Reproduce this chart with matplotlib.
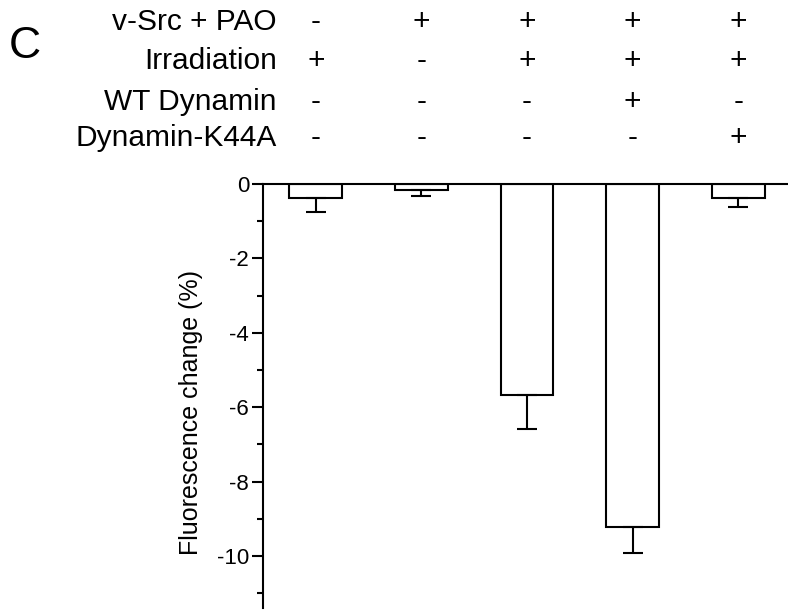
import numpy as np
import matplotlib.pyplot as plt
from matplotlib.transforms import blended_transform_factory
from matplotlib.ticker import MultipleLocator

plt.rcParams['font.family'] = ['Liberation Sans', 'DejaVu Sans']

# data
row_labels = ['v-Src + PAO', 'Irradiation', 'WT Dynamin', 'Dynamin-K44A']
conditions = [
    ['-', '+', '+', '+', '+'],
    ['+', '-', '+', '+', '+'],
    ['-', '-', '-', '+', '-'],
    ['-', '-', '-', '-', '+'],
]
values = [-0.38, -0.17, -5.66, -9.22, -0.38]
errors = [0.36, 0.16, 0.94, 0.69, 0.23]

fig = plt.figure(figsize=(7.88, 6.10), dpi=100)
ax = fig.add_axes([263 / 788, 2 / 610, 1 - 263 / 788, (608 - 184) / 610])

x = np.arange(len(values))
ax.bar(x, values, width=0.5, color='white', edgecolor='black', linewidth=1.5,
       yerr=[errors, np.zeros(len(errors))],
       error_kw=dict(ecolor='black', elinewidth=1.5, capsize=7, capthick=1.5))

ax.set_xlim(-0.5, 4.47)
ax.set_ylim(-11.4, 0)
ax.spines['right'].set_visible(False)
ax.spines['bottom'].set_visible(False)
ax.spines['top'].set_linewidth(1.5)
ax.spines['left'].set_linewidth(1.5)
ax.set_xticks([])
ax.yaxis.set_major_locator(MultipleLocator(2))
ax.yaxis.set_minor_locator(MultipleLocator(1))
ax.tick_params(axis='y', which='major', length=8, width=1.5, labelsize=16, pad=2)
ax.tick_params(axis='y', which='minor', length=4, width=1.5)
ax.set_yticks([0, -2, -4, -6, -8, -10])
ax.set_yticklabels(['0', '-2', '-4', '-6', '-8', '-10'])
ax.set_ylabel('Fluorescence change (%)', fontsize=18)
ax.yaxis.set_label_coords(-0.114, 0.462)

# condition table above the bars
trans = blended_transform_factory(ax.transData, fig.transFigure)
row_y = [22, 61, 102, 138]
for label, signs, yp in zip(row_labels, conditions, row_y):
    yf = 1 - yp / 610
    fig.text(277 / 788, yf, label, ha='right', va='center', fontsize=21.5)
    for xi, s in zip(x, signs):
        ax.text(xi, yf, s, transform=trans, ha='center', va='center',
                fontsize=21.5, clip_on=False)

fig.text(25 / 788, 1 - 47 / 610, 'C', ha='center', va='center', fontsize=32)

plt.savefig('out.png', dpi=100)
